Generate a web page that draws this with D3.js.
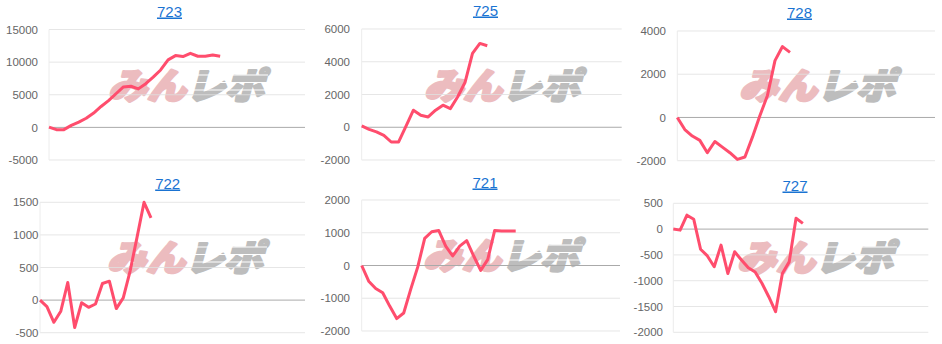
<!DOCTYPE html>
<html>
<head>
<meta charset="utf-8">
<script src="https://cdn.jsdelivr.net/npm/d3@7"></script>
<style>
  body { margin: 0; background: #fff; }
  svg { display: block; font-family: Arial, "Liberation Sans", sans-serif; }
</style>
</head>
<body>
<svg id="chart" width="942" height="344"></svg>
<script>
// machine numbers, one chart each
const titles = ["723", "725", "728", "722", "721", "727"];

// payout series
const s723 = [50, -350, -350, 300, 800, 1400, 2200, 3200, 4100, 5150, 6200, 6300, 5900, 6700,
  7700, 8800, 10350, 11000, 10850, 11350, 10900, 10900, 11100, 10900];
const s725 = [80, -130, -280, -490, -900, -900, 70, 1040, 730, 630, 1040, 1350, 1140, 1860,
  2750, 4510, 5120, 4980];
const s728 = [0, -560, -860, -1060, -1630, -1110, -1370, -1630, -1940, -1830, -910, 90, 1020,
  2630, 3280, 3010];
const s722 = [0, -100, -340, -170, 270, -420, -40, -110, -60, 255, 290, -130, 35, 450, 970,
  1500, 1260];
const s721 = [0, -480, -700, -830, -1240, -1620, -1450, -730, -50, 830, 1030, 1070, 590, 290,
  590, 760, 290, -150, 180, 1070, 1050, 1050, 1050];
const s727 = [0, -20, 270, 190, -390, -520, -730, -310, -860, -440, -600, -750, -830, -1050,
  -1310, -1600, -860, -635, 210, 110];
const seriesList = [s723, s725, s728, s722, s721, s727];

// y axis tick labels
const ticks723 = [-5000, 0, 5000, 10000, 15000];
const ticks725 = [-2000, 0, 2000, 4000, 6000];
const ticks728 = [-2000, 0, 2000, 4000];
const ticks722 = [-500, 0, 500, 1000, 1500];
const ticks721 = [-2000, -1000, 0, 1000, 2000];
const ticks727 = [-2000, -1500, -1000, -500, 0, 500];
const tickList = [ticks723, ticks725, ticks728, ticks722, ticks721, ticks727];

// width of the x domain, in data slots
const xSlots = [34.4, 35.2, 34.3, 38.2, 36.9, 37.4];

// where each small chart sits on the page
const layout = [
  { left: 49, right: 305, top: 29.5, bottom: 160, labelX: 38, titleX: 169.5, titleY: 16.5, wmX: 186, wmY: 99 },
  { left: 361.7, right: 621.7, top: 29, bottom: 160, labelX: 350, titleX: 485.5, titleY: 15.5, wmX: 502, wmY: 99 },
  { left: 677.3, right: 935, top: 31, bottom: 160.7, labelX: 666, titleX: 799.5, titleY: 17.5, wmX: 817, wmY: 99 },
  { left: 40, right: 305, top: 202.3, bottom: 332.7, labelX: 38.5, titleX: 167.7, titleY: 188.5, wmX: 185, wmY: 271 },
  { left: 361.7, right: 620, top: 200, bottom: 331, labelX: 350, titleX: 485, titleY: 187.5, wmX: 501, wmY: 269 },
  { left: 673.3, right: 928.3, top: 203.3, bottom: 332.3, labelX: 663, titleX: 795, titleY: 190.5, wmX: 815, wmY: 271 },
];

const svg = d3.select("#chart");

function drawPanel(i) {
  const L = layout[i];
  const ticks = tickList[i];
  const data = seriesList[i];
  const g = svg.append("g");

  const x = d3.scaleLinear().domain([0, xSlots[i]]).range([L.left, L.right]);
  const y = d3.scaleLinear().domain(d3.extent(ticks)).range([L.bottom, L.top]);

  // watermark (blocky logo text, thickened with a stroke)
  const wm = g.append("text")
    .attr("x", L.wmX)
    .attr("y", L.wmY)
    .attr("text-anchor", "middle")
    .attr("font-family", "'Noto Sans CJK JP', sans-serif")
    .attr("font-weight", 900)
    .attr("font-style", "italic")
    .attr("font-size", 36)
    .attr("textLength", 156)
    .attr("lengthAdjust", "spacingAndGlyphs")
    .attr("stroke-width", 2.5)
    .attr("stroke-linejoin", "round");
  wm.append("tspan").attr("fill", "#ecbcbf").attr("stroke", "#ecbcbf").text("みん");
  wm.append("tspan").attr("fill", "#bdbdbd").attr("stroke", "#bdbdbd").text("レポ");

  // speed stripes across the grey half
  g.selectAll("line.stripe")
    .data([0.3, 0.55, 0.8])
    .join("line")
    .attr("class", "stripe")
    .attr("x1", L.wmX + 4)
    .attr("x2", L.wmX + 82)
    .attr("y1", (f) => L.wmY - 30 * f)
    .attr("y2", (f) => L.wmY - 30 * f)
    .attr("stroke", "#fff")
    .attr("stroke-width", 1.2);

  // grid lines
  g.selectAll("line.grid")
    .data(ticks)
    .join("line")
    .attr("class", "grid")
    .attr("x1", L.left)
    .attr("x2", L.right)
    .attr("y1", (d) => y(d))
    .attr("y2", (d) => y(d))
    .attr("stroke", (d) => (d === 0 ? "#aaa" : "#e0e0e0"))
    .attr("stroke-opacity", (d) => (d === 0 ? 1 : 0.8))
    .attr("stroke-width", 1);

  // faint left edge
  g.append("line")
    .attr("x1", L.left)
    .attr("x2", L.left)
    .attr("y1", L.top)
    .attr("y2", L.bottom)
    .attr("stroke", "#ececec");

  // tick labels
  g.selectAll("text.tick")
    .data(ticks)
    .join("text")
    .attr("class", "tick")
    .attr("x", L.labelX)
    .attr("y", (d) => y(d))
    .attr("dy", "0.36em")
    .attr("text-anchor", "end")
    .attr("font-size", 11.5)
    .attr("fill", "#666")
    .text((d) => d);

  // the line
  const line = d3.line()
    .x((d, k) => x(k))
    .y((d) => y(d));
  g.append("path")
    .datum(data)
    .attr("d", line)
    .attr("fill", "none")
    .attr("stroke", "#ff4d6d")
    .attr("stroke-width", 3)
    .attr("stroke-linejoin", "round");

  // title link
  g.append("text")
    .attr("x", L.titleX)
    .attr("y", L.titleY)
    .attr("text-anchor", "middle")
    .attr("font-size", 15)
    .attr("fill", "#1a73d2")
    .attr("text-decoration", "underline")
    .text(titles[i]);
}

titles.forEach((t, i) => drawPanel(i));
</script>
</body>
</html>
